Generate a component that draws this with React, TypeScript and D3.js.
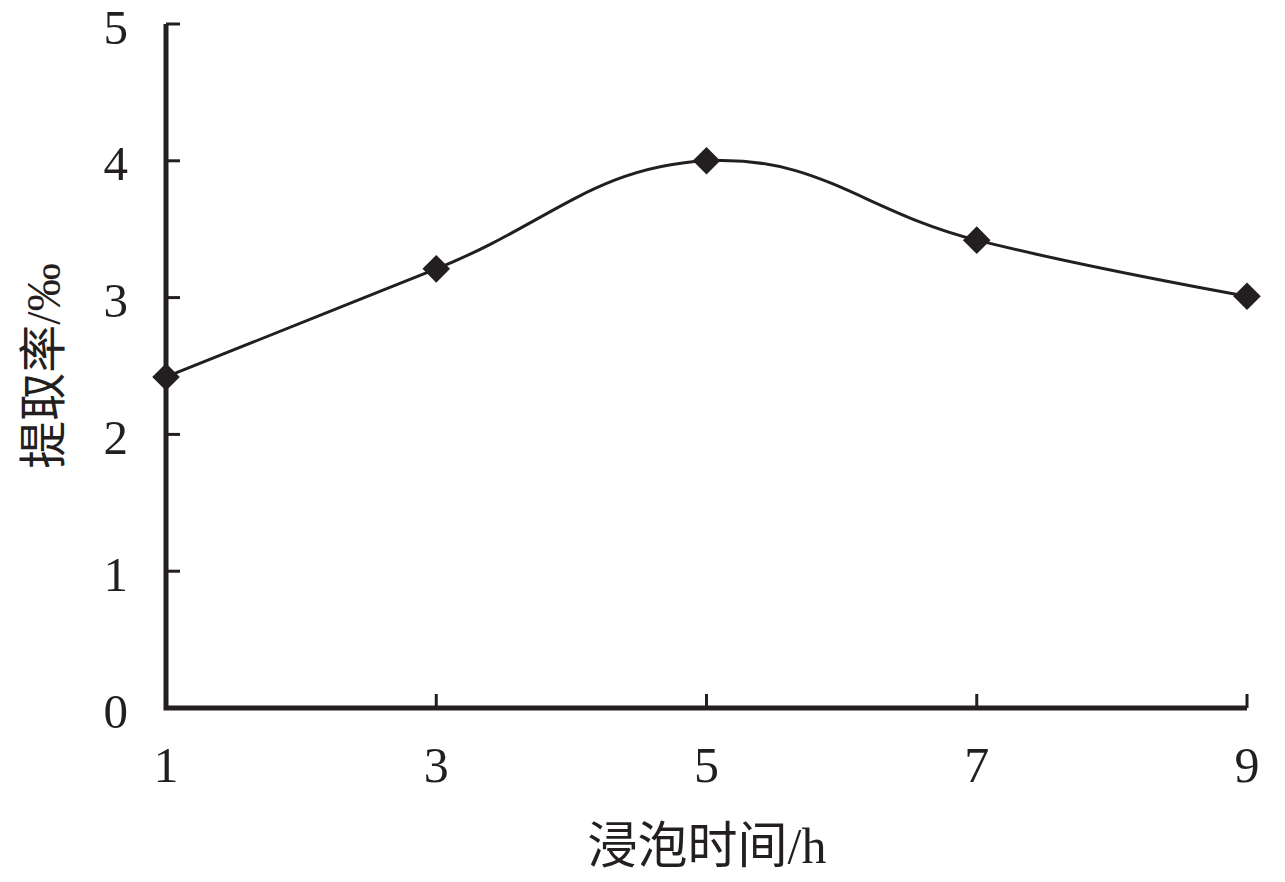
import React, { useEffect, useRef } from 'react';
import * as d3 from 'd3';

const hours = [1, 3, 5, 7, 9];
const rates = [2.42, 3.21, 4.0, 3.42, 3.01];
const yTicks = [0, 1, 2, 3, 4, 5];

const App = () => {
  const ref = useRef<SVGSVGElement>(null);

  useEffect(() => {
    const svg = d3.select(ref.current);
    svg.selectAll('*').remove();

    const ink = '#231f20';
    const font = '"Liberation Serif", "Times New Roman", serif';
    const cjk = '"Liberation Serif", "Noto Sans CJK SC", serif';

    const x = d3.scaleLinear().domain([1, 9]).range([166, 1247]);
    const y = d3.scaleLinear().domain([0, 5]).range([708, 24]);

    const g = svg.append('g');

    // axes lines
    g.append('path')
      .attr('d', `M${x(1)},${y(5)}V${y(0)}H${x(9)}`)
      .attr('fill', 'none')
      .attr('stroke', ink)
      .attr('stroke-width', 5);

    // y ticks (inward)
    g.selectAll('.yt')
      .data(yTicks)
      .enter()
      .append('line')
      .attr('x1', x(1))
      .attr('x2', x(1) + 14)
      .attr('y1', d => y(d))
      .attr('y2', d => y(d))
      .attr('stroke', ink)
      .attr('stroke-width', 3);

    g.selectAll('.yl')
      .data(yTicks)
      .enter()
      .append('text')
      .attr('x', 128)
      .attr('y', d => y(d))
      .attr('dy', '0.4em')
      .attr('text-anchor', 'end')
      .attr('font-family', font)
      .attr('font-size', 49)
      .attr('fill', ink)
      .text(d => d);

    // x ticks (inward)
    g.selectAll('.xt')
      .data(hours)
      .enter()
      .append('line')
      .attr('x1', d => x(d))
      .attr('x2', d => x(d))
      .attr('y1', y(0))
      .attr('y2', y(0) - 14)
      .attr('stroke', ink)
      .attr('stroke-width', 3);

    g.selectAll('.xl')
      .data(hours)
      .enter()
      .append('text')
      .attr('x', d => x(d))
      .attr('y', 782)
      .attr('text-anchor', 'middle')
      .attr('font-family', font)
      .attr('font-size', 50)
      .attr('fill', ink)
      .text(d => d);

    // smoothed line (excel-like)
    const line = d3.line<number>()
      .x((_, i) => x(hours[i]))
      .y(d => y(d))
      .curve(d3.curveCardinal.tension(-0.25));

    g.append('path')
      .datum(rates)
      .attr('d', line)
      .attr('fill', 'none')
      .attr('stroke', ink)
      .attr('stroke-width', 3);

    // diamond markers
    g.selectAll('.pt')
      .data(rates)
      .enter()
      .append('path')
      .attr('d', d3.symbol().type(d3.symbolSquare).size(380)())
      .attr('transform', (d, i) => `translate(${x(hours[i])},${y(d)}) rotate(45)`)
      .attr('fill', ink);

    // axis titles
    g.append('text')
      .attr('x', 707)
      .attr('y', 863)
      .attr('text-anchor', 'middle')
      .attr('font-family', cjk)
      .attr('font-size', 50)
      .attr('fill', ink)
      .text('浸泡时间/h');

    g.append('text')
      .attr('transform', 'translate(60,366) rotate(-90)')
      .attr('text-anchor', 'middle')
      .attr('font-family', cjk)
      .attr('font-size', 48)
      .attr('fill', ink)
      .text('提取率/‰');
  }, []);

  return (
    <svg
      ref={ref}
      width={1285}
      height={882}
      style={{ position: 'absolute', left: 0, top: 0, background: '#fff' }}
    />
  );
};

export default App;
